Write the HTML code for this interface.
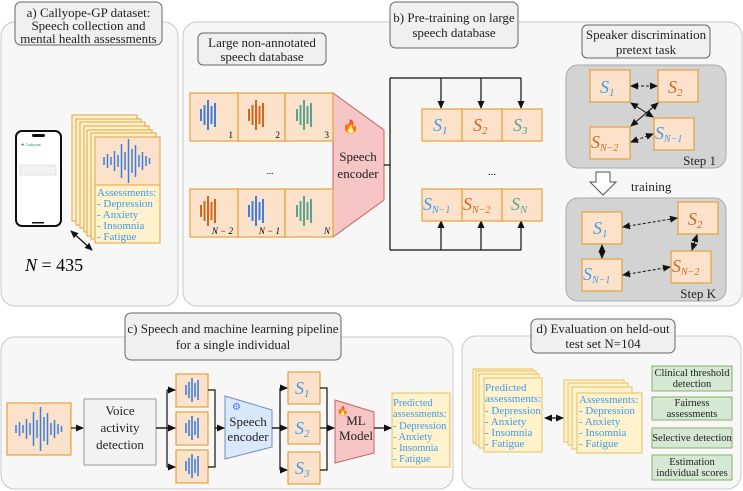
<!DOCTYPE html>
<html><head><meta charset="utf-8"><style>
html,body{margin:0;padding:0;background:#fff}
svg{display:block;font-family:"Liberation Serif",serif}
.t{font-size:13px;fill:#222}
.s{font-style:italic;font-size:18px}
</style></head><body>
<svg width="743" height="491" viewBox="0 0 743 491" xmlns="http://www.w3.org/2000/svg">
<defs>
<marker id="ah" markerWidth="8" markerHeight="8" refX="7" refY="4" orient="auto" markerUnits="userSpaceOnUse"><path d="M0,0.5 L8,4 L0,7.5 z" fill="#111"/></marker>
<marker id="ahs" markerWidth="8" markerHeight="8" refX="1" refY="4" orient="auto" markerUnits="userSpaceOnUse"><path d="M8,0.5 L0,4 L8,7.5 z" fill="#111"/></marker>
<g id="wb"><path d="M-7,-6v12M-3.5,-10v20M0,-15v30M3.5,-9v18M7,-12v24" stroke="#3d7fe0" stroke-width="2"/></g>
<g id="wo"><path d="M-7,-6v12M-3.5,-10v20M0,-15v30M3.5,-9v18M7,-12v24" stroke="#d4651c" stroke-width="2"/></g>
<g id="wg"><path d="M-7,-6v12M-3.5,-10v20M0,-15v30M3.5,-9v18M7,-12v24" stroke="#5aa38c" stroke-width="2"/></g>
<g id="ws"><path d="M-6,-5v10M-3,-8v16M0,-12v24M3,-7v14M6,-10v20" stroke="#3d7fe0" stroke-width="1.6"/></g>
<g id="wl"><path d="M-23,-4v8M-19.5,-7v14M-16,-4v8M-12.5,-10v20M-9,-6v12M-5.5,-17v34M-2,-9v18M1.5,-22v44M5,-12v24M8.5,-16v32M12,-6v12M15.5,-9v18M19,-5v10M22.5,-3v6" stroke="#3d7fe0" stroke-width="1.5"/></g>
</defs>

<!-- Panel a -->
<rect x="1" y="22" width="177" height="284" rx="14" fill="#f7f7f7" stroke="#c8c8c8"/>
<rect x="15" y="2" width="147" height="43" rx="6" fill="#f0f0f0" stroke="#666"/>
<text class="t" x="88.5" y="17" text-anchor="middle">a) Callyope-GP dataset:</text>
<text class="t" x="88.5" y="30" text-anchor="middle">Speech collection and</text>
<text class="t" x="88.5" y="43" text-anchor="middle">mental health assessments</text>
<rect x="16" y="131" width="45" height="95" rx="6" fill="#fff" stroke="#111" stroke-width="2"/>
<rect x="32" y="134" width="13" height="3" rx="1.5" fill="#111"/>
<text x="21" y="146" font-size="4" fill="#3a8f6a" font-family="Liberation Sans,sans-serif">✚ Callyope</text>
<rect x="20" y="165" width="36" height="10" fill="#f2f2f2" stroke="#ccc" stroke-width="0.5"/>
<rect x="32" y="222" width="12" height="1.5" fill="#111"/>
<g stroke="#e5a23a" stroke-width="1">
<rect x="72" y="115" width="65" height="106" fill="#fff2cc"/>
<rect x="76" y="119" width="65" height="106" fill="#fff2cc"/>
<rect x="80" y="122" width="65" height="106" fill="#fff2cc"/>
<rect x="84" y="126" width="65" height="106" fill="#fff2cc"/>
<rect x="87" y="130" width="65" height="106" fill="#fff2cc"/>
<rect x="91" y="133" width="65" height="106" fill="#fff2cc"/>
<rect x="95" y="137" width="65" height="106" fill="#fff2cc"/>
<rect x="95" y="137" width="65" height="48" fill="#fde2cb"/>
</g>
<use href="#wl" x="127" y="161"/>
<g font-size="11" fill="#3d9be9">
<text x="97" y="196">Assessments:</text>
<text x="97" y="207">- Depression</text>
<text x="97" y="218">- Anxiety</text>
<text x="97" y="229">- Insomnia</text>
<text x="97" y="240">- Fatigue</text>
</g>
<line x1="71" y1="231" x2="92" y2="250" stroke="#111" stroke-width="1.2" marker-end="url(#ah)" marker-start="url(#ahs)"/>
<text x="25" y="271" font-size="18" font-style="italic">N <tspan font-style="normal">= 435</tspan></text>

<!-- Panel b -->
<rect x="183" y="22" width="559" height="284" rx="14" fill="#f7f7f7" stroke="#c8c8c8"/>
<rect x="390" y="2" width="128" height="46" rx="6" fill="#f0f0f0" stroke="#666"/>
<text class="t" x="454" y="22" text-anchor="middle">b) Pre-training on large</text>
<text class="t" x="454" y="37" text-anchor="middle">speech database</text>
<rect x="198" y="33" width="128" height="32" rx="5" fill="#f0f0f0" stroke="#666"/>
<text class="t" x="262" y="47" text-anchor="middle">Large non-annotated</text>
<text class="t" x="262" y="61" text-anchor="middle">speech database</text>
<rect x="582" y="25" width="128" height="33" rx="5" fill="#f0f0f0" stroke="#666"/>
<text class="t" x="646" y="39" text-anchor="middle">Speaker discrimination</text>
<text class="t" x="646" y="54" text-anchor="middle">pretext task</text>

<polygon points="333,93 384,130 384,200 333,237" fill="#f6c5c5" stroke="#c86060"/>
<text x="351" y="131" font-size="13" text-anchor="middle">🔥</text>
<text class="t" x="358" y="161" text-anchor="middle" font-size="14">Speech</text>
<text class="t" x="358" y="178" text-anchor="middle" font-size="14">encoder</text>
<g stroke="#e5a23a" stroke-width="1.2" fill="#fde2cb">
<rect x="190" y="93" width="48" height="48"/><rect x="238" y="93" width="47" height="48"/><rect x="285" y="93" width="48" height="48"/>
<rect x="190" y="189" width="48" height="48"/><rect x="238" y="189" width="47" height="48"/><rect x="285" y="189" width="48" height="48"/>
</g>
<use href="#wb" x="208" y="115"/><use href="#wo" x="256" y="115"/><use href="#wg" x="304" y="115"/>
<use href="#wo" x="208" y="211"/><use href="#wb" x="256" y="211"/><use href="#wg" x="304" y="211"/>
<g font-size="9" font-family="Liberation Serif,serif">
<text x="233" y="138" text-anchor="end">1</text><text x="280" y="138" text-anchor="end">2</text><text x="329" y="138" text-anchor="end">3</text>
<text x="233" y="234" text-anchor="end" font-style="italic">N − 2</text><text x="280" y="234" text-anchor="end" font-style="italic">N − 1</text><text x="330" y="234" text-anchor="end" font-style="italic">N</text>
</g>
<text x="270" y="174" font-size="9" text-anchor="middle">...</text>
<text x="492" y="175" font-size="11" text-anchor="middle">...</text>

<g stroke="#111" stroke-width="1.2" fill="none">
<path d="M384,165 H390 M390,78 V250 M390,78 H521 M390,250 H521"/>
<line x1="441" y1="78" x2="441" y2="108" marker-end="url(#ah)"/>
<line x1="481" y1="78" x2="481" y2="108" marker-end="url(#ah)"/>
<line x1="521" y1="78" x2="521" y2="108" marker-end="url(#ah)"/>
<line x1="441" y1="250" x2="441" y2="221" marker-end="url(#ah)"/>
<line x1="481" y1="250" x2="481" y2="221" marker-end="url(#ah)"/>
<line x1="521" y1="250" x2="521" y2="221" marker-end="url(#ah)"/>
</g>
<g stroke="#e5a23a" stroke-width="1.2" fill="#fde2cb">
<rect x="422" y="109" width="40" height="32"/><rect x="462" y="109" width="40" height="32"/><rect x="502" y="109" width="40" height="32"/>
<rect x="422" y="189" width="40" height="32"/><rect x="462" y="189" width="40" height="32"/><rect x="502" y="189" width="40" height="32"/>
</g>
<g class="s">
<text x="433" y="131" fill="#3d9be9">S<tspan font-size="11" dy="3">1</tspan></text>
<text x="473" y="131" fill="#d4651c">S<tspan font-size="11" dy="3">2</tspan></text>
<text x="513" y="131" fill="#5aa38c">S<tspan font-size="11" dy="3">3</tspan></text>
<text x="423" y="210" fill="#3d9be9">S<tspan font-size="10" dy="3">N−1</tspan></text>
<text x="463" y="210" fill="#d4651c">S<tspan font-size="10" dy="3">N−2</tspan></text>
<text x="511" y="210" fill="#5aa38c">S<tspan font-size="11" dy="3">N</tspan></text>
</g>

<!-- steps -->
<rect x="566" y="65" width="160" height="103" rx="12" fill="#d3d3d3" stroke="#aaa"/>
<rect x="566" y="198" width="160" height="103" rx="12" fill="#d3d3d3" stroke="#aaa"/>
<g stroke="#e5a23a" stroke-width="1.2" fill="#fde2cb">
<rect x="590" y="70" width="40" height="32"/><rect x="658" y="70" width="40" height="32"/>
<rect x="590" y="127" width="40" height="32"/><rect x="654" y="118" width="40" height="32"/>
<rect x="582" y="212" width="40" height="32"/><rect x="678" y="202" width="40" height="32"/>
<rect x="582" y="259" width="40" height="32"/><rect x="671" y="251" width="40" height="32"/>
</g>
<g class="s">
<text x="600" y="93" fill="#3d9be9">S<tspan font-size="11" dy="3">1</tspan></text>
<text x="668" y="93" fill="#d4651c">S<tspan font-size="11" dy="3">2</tspan></text>
<text x="591" y="148" fill="#d4651c">S<tspan font-size="10" dy="3">N−2</tspan></text>
<text x="655" y="139" fill="#3d9be9">S<tspan font-size="10" dy="3">N−1</tspan></text>
<text x="593" y="234" fill="#3d9be9">S<tspan font-size="11" dy="3">1</tspan></text>
<text x="688" y="225" fill="#d4651c">S<tspan font-size="11" dy="3">2</tspan></text>
<text x="583" y="280" fill="#3d9be9">S<tspan font-size="10" dy="3">N−1</tspan></text>
<text x="672" y="272" fill="#d4651c">S<tspan font-size="10" dy="3">N−2</tspan></text>
</g>
<g stroke="#111" stroke-width="1" fill="none" marker-end="url(#ah)" marker-start="url(#ahs)">
<line x1="631" y1="86" x2="657" y2="86" stroke-dasharray="3,2"/>
<line x1="631" y1="103" x2="653" y2="117"/>
<line x1="658" y1="103" x2="631" y2="126"/>
<line x1="631" y1="142" x2="653" y2="134" stroke-dasharray="3,2"/>
<line x1="623" y1="227" x2="677" y2="218" stroke-dasharray="3,2"/>
<line x1="602" y1="245" x2="602" y2="258"/>
<line x1="697" y1="235" x2="692" y2="250"/>
<line x1="623" y1="275" x2="670" y2="267" stroke-dasharray="3,2"/>
</g>
<text class="t" x="716" y="165" text-anchor="end" font-size="11">Step 1</text>
<text class="t" x="716" y="298" text-anchor="end" font-size="11">Step K</text>
<polygon points="596,172 610,172 610,182 616,182 603,195 590,182 596,182" fill="#fff" stroke="#555"/>
<text class="t" x="631" y="191" font-size="13">training</text>

<!-- Panel c -->
<rect x="1" y="337" width="452" height="152" rx="14" fill="#f7f7f7" stroke="#c8c8c8"/>
<rect x="125" y="313" width="216" height="47" rx="6" fill="#f0f0f0" stroke="#666"/>
<text class="t" x="233" y="333" text-anchor="middle">c) Speech and machine learning pipeline</text>
<text class="t" x="233" y="349" text-anchor="middle">for a single individual</text>
<rect x="7" y="403" width="64" height="52" fill="#fde2cb" stroke="#e5a23a" stroke-width="1.2"/>
<use href="#wl" x="39" y="429"/>
<rect x="84" y="399" width="72" height="66" fill="#f2f2f2" stroke="#999"/>
<text class="t" x="120" y="415" text-anchor="middle" font-size="14">Voice</text>
<text class="t" x="120" y="432" text-anchor="middle" font-size="14">activity</text>
<text class="t" x="120" y="449" text-anchor="middle" font-size="14">detection</text>
<g stroke="#e5a23a" stroke-width="1.2" fill="#fde2cb">
<rect x="176" y="374" width="32" height="33"/><rect x="176" y="412" width="32" height="33"/><rect x="176" y="450" width="32" height="33"/>
<rect x="288" y="372" width="32" height="32"/><rect x="288" y="412" width="32" height="32"/><rect x="288" y="452" width="32" height="32"/>
</g>
<use href="#ws" x="192" y="390"/><use href="#ws" x="192" y="428"/><use href="#ws" x="192" y="466"/>
<g class="s" fill="#3d9be9">
<text x="295" y="394">S<tspan font-size="11" dy="3">1</tspan></text>
<text x="295" y="434">S<tspan font-size="11" dy="3">2</tspan></text>
<text x="295" y="474">S<tspan font-size="11" dy="3">3</tspan></text>
</g>
<polygon points="225,396 272,410 272,447 225,459" fill="#dae8fc" stroke="#6c8ebf"/>
<text x="232" y="410" font-size="10" fill="#3d7fe0">⚙</text>
<text class="t" x="248" y="426" text-anchor="middle" font-size="12.5">Speech</text>
<text class="t" x="248" y="441" text-anchor="middle" font-size="12.5">encoder</text>
<polygon points="335,400 374,412 374,453 335,463" fill="#f6c5c5" stroke="#c86060"/>
<text x="337" y="414" font-size="9">🔥</text>
<text class="t" x="356" y="425" text-anchor="middle" font-size="13">ML</text>
<text class="t" x="356" y="440" text-anchor="middle" font-size="13">Model</text>
<rect x="392" y="393" width="58" height="74" fill="#fff2cc" stroke="#e5c060"/>
<g font-size="10.5" fill="#3d9be9">
<text x="393" y="406">Predicted</text><text x="393" y="417">assessments:</text>
<text x="393" y="429">- Depression</text><text x="393" y="440">- Anxiety</text>
<text x="393" y="451">- Insomnia</text><text x="393" y="462">- Fatigue</text>
</g>
<g stroke="#111" stroke-width="1.2" fill="none">
<line x1="71" y1="428" x2="83" y2="428" marker-end="url(#ah)"/>
<path d="M156,428 H167 M167,390 V467 M208,390 H215 V467 H208 M215,428 H220 M272,428 H280 M280,388 V470 M320,388 H327 V470 H320 M327,428 H330"/>
<line x1="167" y1="390" x2="175" y2="390" marker-end="url(#ah)"/>
<line x1="156" y1="428" x2="175" y2="428" marker-end="url(#ah)"/>
<line x1="167" y1="467" x2="175" y2="467" marker-end="url(#ah)"/>
<line x1="215" y1="428" x2="224" y2="428" marker-end="url(#ah)"/>
<line x1="280" y1="388" x2="287" y2="388" marker-end="url(#ah)"/>
<line x1="272" y1="428" x2="287" y2="428" marker-end="url(#ah)"/>
<line x1="280" y1="470" x2="287" y2="470" marker-end="url(#ah)"/>
<line x1="320" y1="428" x2="334" y2="428" marker-end="url(#ah)"/>
<line x1="374" y1="428" x2="391" y2="428" marker-end="url(#ah)"/>
</g>

<!-- Panel d -->
<rect x="462" y="336" width="279" height="153" rx="14" fill="#f7f7f7" stroke="#c8c8c8"/>
<rect x="531" y="319" width="144" height="34" rx="6" fill="#f0f0f0" stroke="#666"/>
<text class="t" x="603" y="333" text-anchor="middle">d) Evaluation on held-out</text>
<text class="t" x="603" y="348" text-anchor="middle">test set N=104</text>
<g stroke="#e5c060" fill="#fff2cc">
<rect x="473" y="369" width="60" height="74"/><rect x="476" y="371" width="60" height="74"/><rect x="479" y="374" width="60" height="74"/><rect x="484" y="378" width="58" height="74"/>
<rect x="564" y="380" width="60" height="62"/><rect x="568" y="383" width="60" height="62"/><rect x="572" y="387" width="60" height="62"/><rect x="577" y="393" width="65" height="60"/>
</g>
<g font-size="11" fill="#3d9be9">
<text x="485" y="391">Predicted</text><text x="485" y="402">assessments:</text>
<text x="485" y="414">- Depression</text><text x="485" y="425">- Anxiety</text>
<text x="485" y="436">- Insomnia</text><text x="485" y="447">- Fatigue</text>
<text x="579" y="403">Assessments:</text>
<text x="579" y="414">- Depression</text><text x="579" y="425">- Anxiety</text>
<text x="579" y="436">- Insomnia</text><text x="579" y="447">- Fatigue</text>
</g>
<line x1="545" y1="418" x2="563" y2="418" stroke="#111" stroke-width="1.2" marker-end="url(#ah)" marker-start="url(#ahs)"/>
<g stroke="#82b366" fill="#d5e8d4">
<rect x="652" y="366" width="80" height="25"/><rect x="652" y="397" width="80" height="23"/>
<rect x="652" y="428" width="80" height="20"/><rect x="652" y="455" width="80" height="25"/>
</g>
<g font-size="10.5" text-anchor="middle" fill="#222">
<text x="692" y="376">Clinical threshold</text><text x="692" y="387">detection</text>
<text x="692" y="406">Fairness</text><text x="692" y="417">assessments</text>
<text x="692" y="441">Selective detection</text>
<text x="692" y="465">Estimation</text><text x="692" y="476">individual scores</text>
</g>
</svg>
</body></html>
